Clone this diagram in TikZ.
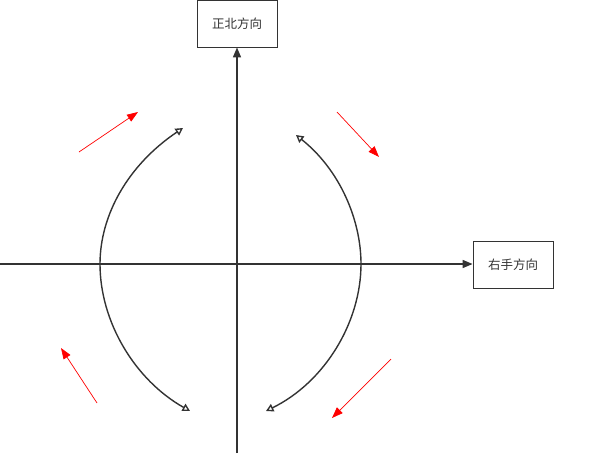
\documentclass[tikz,border=0pt]{standalone}
\usepackage{fontspec}
\newfontfamily\cjk{Noto Sans CJK SC}
\usetikzlibrary{arrows.meta}
\definecolor{axisgray}{HTML}{333333}
\begin{document}
\begin{tikzpicture}[x=1pt, y=-1pt,
    box/.style={
        draw=axisgray,
        line width=0.8pt,
        minimum width=80pt,
        minimum height=47pt,
        inner sep=0pt,
        font=\cjk\fontsize{12.5pt}{14pt}\selectfont,
        text=axisgray
    },
    axis/.style={
        draw=axisgray,
        line width=1.5pt,
        -{Triangle[length=10pt,width=8pt]}
    },
    turn/.style={
        draw=axisgray,
        line width=1.4pt,
        {Triangle[open,length=7.5pt,width=8pt]}-{Triangle[open,length=7.5pt,width=8pt]}
    },
    hint/.style={
        draw=red,
        line width=0.7pt,
        -{Triangle[length=11pt,width=8pt]}
    }
]
\useasboundingbox (0,0) rectangle (597,461);

%%%%%%%%%%%%%%%%%%%%%%%%
% Cajas de direccion
%%%%%%%%%%%%%%%%%%%%%%%%

\node[box] (north) at (237,23.5) {正北方向};
\node[box] (right) at (513,265) {右手方向};

%%%%%%%%%%%%%%%%%%%%%%%%
% Ejes
%%%%%%%%%%%%%%%%%%%%%%%%

\coordinate (south) at (237,453);
\coordinate (west) at (0,264);
\draw[axis] (south) -- (north.south);
\draw[axis] (west) -- (west -| right.west);

%%%%%%%%%%%%%%%%%%%%%%%%
% Arcos de giro
%%%%%%%%%%%%%%%%%%%%%%%%

% --- Izquierda ---
\coordinate (lt) at (183,128);
\coordinate (lm) at (100,264);
\coordinate (lb) at (190,411);
\draw[turn] (lt) .. controls (128,165) and (100,215) .. (lm)
    .. controls (100,322) and (135,380) .. (lb);

% --- Derecha ---
\coordinate (rt) at (296,135);
\coordinate (rm) at (361,264);
\coordinate (rb) at (266,411);
\draw[turn] (rt) .. controls (340,170) and (361,220) .. (rm)
    .. controls (361,322) and (325,382) .. (rb);

%%%%%%%%%%%%%%%%%%%%%%%%
% Flechas rojas
%%%%%%%%%%%%%%%%%%%%%%%%

\coordinate (a1) at (79,152);  \coordinate (b1) at (138,112);
\coordinate (a2) at (337,112); \coordinate (b2) at (379,157);
\coordinate (a3) at (97,403);  \coordinate (b3) at (61,348);
\coordinate (a4) at (391,359); \coordinate (b4) at (332,418);
\draw[hint] (a1) -- (b1);
\draw[hint] (a2) -- (b2);
\draw[hint] (a3) -- (b3);
\draw[hint] (a4) -- (b4);

\end{tikzpicture}
\end{document}
